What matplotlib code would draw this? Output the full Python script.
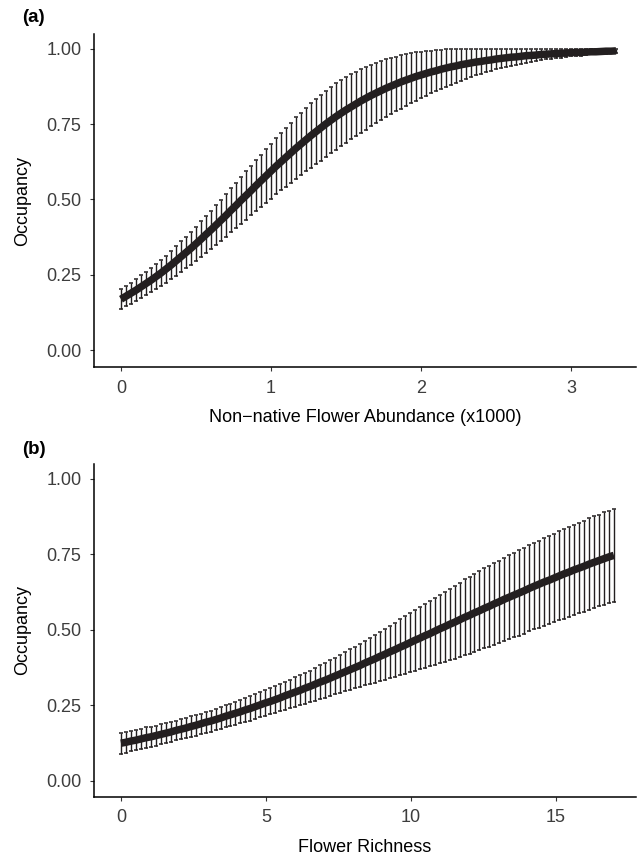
import numpy as np
import matplotlib
matplotlib.use("Agg")
import matplotlib.pyplot as plt

plt.rcParams["font.family"] = ["Liberation Sans", "DejaVu Sans"]

INK = "#231f20"

# panel (a): non-native flower abundance (x1000)
abund = np.linspace(0, 3.3, 100)
occ_a = [0.169, 0.179, 0.189, 0.199, 0.210, 0.221, 0.232, 0.244, 0.256, 0.269,
         0.282, 0.296, 0.310, 0.324, 0.338, 0.353, 0.368, 0.384, 0.399, 0.415,
         0.431, 0.447, 0.464, 0.480, 0.497, 0.513, 0.529, 0.546, 0.562, 0.578,
         0.594, 0.610, 0.625, 0.640, 0.655, 0.670, 0.684, 0.698, 0.712, 0.725,
         0.738, 0.751, 0.763, 0.775, 0.786, 0.797, 0.807, 0.817, 0.827, 0.836,
         0.845, 0.853, 0.861, 0.869, 0.876, 0.883, 0.890, 0.896, 0.902, 0.908,
         0.913, 0.918, 0.923, 0.927, 0.932, 0.936, 0.940, 0.943, 0.947, 0.950,
         0.953, 0.956, 0.958, 0.961, 0.963, 0.966, 0.968, 0.970, 0.972, 0.973,
         0.975, 0.977, 0.978, 0.979, 0.981, 0.982, 0.983, 0.984, 0.985, 0.986,
         0.987, 0.988, 0.988, 0.989, 0.990, 0.990, 0.991, 0.992, 0.992, 0.993]
ci_a = [0.033, 0.034, 0.035, 0.036, 0.038, 0.039, 0.040, 0.041, 0.043, 0.045,
        0.047, 0.049, 0.051, 0.053, 0.055, 0.057, 0.059, 0.061, 0.064, 0.066,
        0.068, 0.070, 0.073, 0.075, 0.078, 0.080, 0.082, 0.084, 0.086, 0.089,
        0.091, 0.093, 0.095, 0.098, 0.100, 0.102, 0.104, 0.105, 0.107, 0.108,
        0.109, 0.110, 0.110, 0.110, 0.110, 0.109, 0.108, 0.107, 0.105, 0.104,
        0.102, 0.100, 0.098, 0.096, 0.094, 0.091, 0.089, 0.086, 0.083, 0.080,
        0.077, 0.074, 0.071, 0.068, 0.065, 0.062, 0.059, 0.056, 0.053, 0.050,
        0.047, 0.044, 0.042, 0.039, 0.037, 0.034, 0.032, 0.030, 0.028, 0.026,
        0.024, 0.023, 0.021, 0.020, 0.018, 0.017, 0.016, 0.015, 0.014, 0.013,
        0.012, 0.011, 0.011, 0.010, 0.009, 0.009, 0.008, 0.008, 0.007, 0.007]

# panel (b): flower richness
richness = np.linspace(0, 17, 100)
occ_b = [0.125, 0.128, 0.132, 0.135, 0.139, 0.143, 0.146, 0.150, 0.154, 0.158,
         0.162, 0.167, 0.171, 0.175, 0.180, 0.184, 0.189, 0.194, 0.198, 0.203,
         0.208, 0.214, 0.219, 0.224, 0.229, 0.235, 0.240, 0.246, 0.252, 0.258,
         0.263, 0.269, 0.275, 0.282, 0.288, 0.294, 0.300, 0.307, 0.313, 0.320,
         0.327, 0.333, 0.340, 0.347, 0.354, 0.361, 0.368, 0.375, 0.382, 0.390,
         0.397, 0.404, 0.412, 0.419, 0.427, 0.434, 0.442, 0.449, 0.457, 0.465,
         0.472, 0.480, 0.487, 0.495, 0.503, 0.510, 0.518, 0.525, 0.533, 0.541,
         0.548, 0.556, 0.563, 0.571, 0.578, 0.586, 0.593, 0.601, 0.608, 0.615,
         0.622, 0.629, 0.637, 0.644, 0.651, 0.658, 0.664, 0.671, 0.678, 0.685,
         0.691, 0.698, 0.704, 0.710, 0.717, 0.723, 0.729, 0.735, 0.741, 0.746]
ci_b = [0.035, 0.035, 0.034, 0.034, 0.034, 0.034, 0.033, 0.033, 0.033, 0.033,
        0.033, 0.033, 0.033, 0.033, 0.034, 0.034, 0.034, 0.035, 0.035, 0.036,
        0.036, 0.037, 0.037, 0.038, 0.038, 0.039, 0.040, 0.041, 0.041, 0.042,
        0.043, 0.044, 0.045, 0.046, 0.047, 0.049, 0.050, 0.051, 0.052, 0.054,
        0.055, 0.057, 0.059, 0.061, 0.063, 0.065, 0.067, 0.069, 0.071, 0.074,
        0.077, 0.080, 0.082, 0.085, 0.087, 0.090, 0.093, 0.095, 0.098, 0.100,
        0.103, 0.106, 0.108, 0.111, 0.113, 0.116, 0.118, 0.121, 0.123, 0.126,
        0.128, 0.129, 0.131, 0.132, 0.134, 0.135, 0.136, 0.137, 0.138, 0.139,
        0.141, 0.142, 0.142, 0.143, 0.144, 0.145, 0.146, 0.146, 0.147, 0.148,
        0.149, 0.149, 0.150, 0.151, 0.151, 0.152, 0.152, 0.153, 0.153, 0.154]

y_ticks = [0.0, 0.25, 0.5, 0.75, 1.0]
y_ticklabels = ["0.00", "0.25", "0.50", "0.75", "1.00"]


def draw_panel(ax, x, occ, ci, xlim, ylim, xticks, xlabel):
    ax.errorbar(x, occ, yerr=ci, fmt="none", ecolor=INK, elinewidth=1.0,
                capsize=1.6, capthick=1.1, zorder=2)
    ax.plot(x, occ, color=INK, lw=5.4, solid_capstyle="butt", zorder=3)
    ax.set_xlim(*xlim)
    ax.set_ylim(*ylim)
    ax.set_xticks(xticks)
    ax.set_yticks(y_ticks)
    ax.set_yticklabels(y_ticklabels)
    for side in ["top", "right"]:
        ax.spines[side].set_visible(False)
    for side in ["left", "bottom"]:
        ax.spines[side].set_linewidth(1.1)
        ax.spines[side].set_color("black")
    ax.tick_params(length=3, width=0.8, color="#333333", labelsize=13,
                   labelcolor="#3d3d3d", pad=6)
    ax.set_xlabel(xlabel, fontsize=13, labelpad=9)
    ax.set_ylabel("Occupancy", fontsize=13, labelpad=11)


fig = plt.figure(figsize=(6.38, 8.63), dpi=100)
ax1 = fig.add_axes([0.1473, 0.5747, 0.8495, 0.3859])
ax2 = fig.add_axes([0.1473, 0.0768, 0.8495, 0.3855])

draw_panel(ax1, abund, occ_a, ci_a, (-0.18, 3.433), (-0.056, 1.049),
           [0, 1, 2, 3], "Non\u2212native Flower Abundance (x1000)")
draw_panel(ax2, richness, occ_b, ci_b, (-0.93, 17.76), (-0.052, 1.048),
           [0, 5, 10, 15], "Flower Richness")

fig.text(0.034, 0.980, "(a)", fontsize=13.5, fontweight="bold", va="center")
fig.text(0.034, 0.4797, "(b)", fontsize=13.5, fontweight="bold", va="center")

fig.savefig("out.png", dpi=100)
